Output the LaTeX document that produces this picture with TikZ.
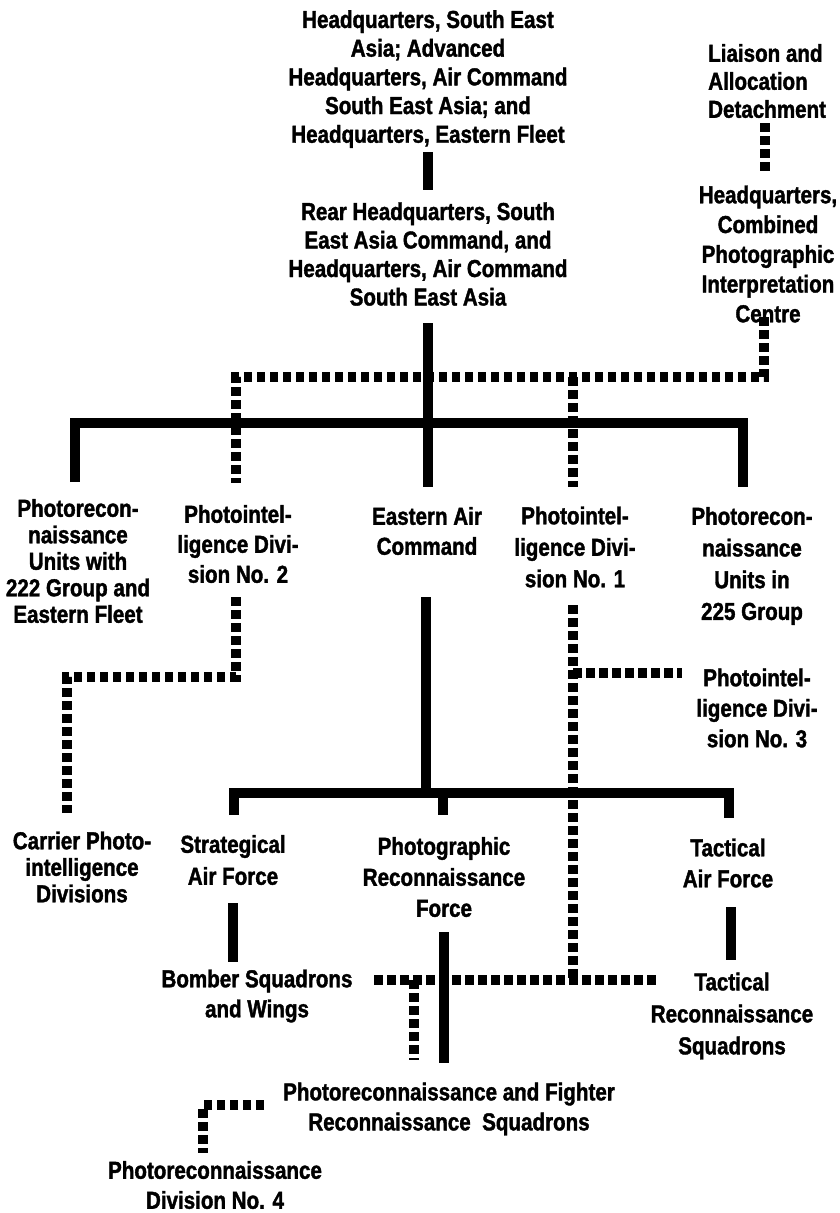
\documentclass[tikz,border=0pt]{standalone}
\usepackage{fontspec}
\setmainfont{Liberation Sans}[FakeStretch=0.84,FakeBold=1.5]
\newcommand\lblfont[1]{\fontsize{24.5}{#1}\selectfont\bfseries}
\tikzset{
  lbl/.style={font=\lblfont{#1}, align=center, inner sep=0pt, text=black},
  solidline/.style={line width=9.5pt, line cap=butt, line join=miter, draw=black},
  dotline/.style={line width=9.5pt, line cap=butt, dash pattern=on 8.5pt off 4.5pt, draw=black}
}
\begin{document}
\begin{tikzpicture}[x=1pt,y=-1pt]
\useasboundingbox (0,0) rectangle (840,1213);
\fill[white] (0,0) rectangle (840,1213);

% ---------- nodes ----------
\node[lbl=28.7] (top) at (428,79) {Headquarters, South East\\Asia; Advanced\\Headquarters, Air Command\\South East Asia; and\\Headquarters, Eastern Fleet};
\node[lbl=28.5] (rear) at (428,254) {Rear Headquarters, South\\East Asia Command, and\\Headquarters, Air Command\\South East Asia};
\node[lbl=28, align=left, anchor=west] (liaison) at (708,81) {Liaison and\\Allocation\\Detachment};
\node[lbl=29.75] (hqcpic) at (768,254) {Headquarters,\\Combined\\Photographic\\Interpretation\\Centre};
\node[lbl=26.5] (pru222) at (78,561) {Photorecon-\\naissance\\Units with\\222 Group and\\Eastern Fleet};
\node[lbl=30] (pid2) at (238,544) {Photointel-\\ligence Divi-\\sion No. 2};
\node[lbl=30] (eac) at (427,531) {Eastern Air\\Command};
\node[lbl=31.5] (pid1) at (575,547) {Photointel-\\ligence Divi-\\sion No. 1};
\node[lbl=31.7] (pru225) at (752,566) {Photorecon-\\naissance\\Units in\\225 Group};
\node[lbl=30.5] (pid3) at (757,708) {Photointel-\\ligence Divi-\\sion No. 3};
\node[lbl=26.5] (carrier) at (82,867) {Carrier Photo-\\intelligence\\Divisions};
\node[lbl=32] (saf) at (233,860) {Strategical\\Air Force};
\node[lbl=31] (prf) at (444,877) {Photographic\\Reconnaissance\\Force};
\node[lbl=31] (taf) at (728,863) {Tactical\\Air Force};
\node[lbl=30] (bomber) at (257,996) {Bomber Squadrons\\and Wings};
\node[lbl=32] (trs) at (732,1016) {Tactical\\Reconnaissance\\Squadrons};
\node[lbl=30] (prfrs) at (449,1109) {Photoreconnaissance and Fighter\\Reconnaissance\ \ Squadrons};
\node[lbl=30] (prd4) at (215,1185) {Photoreconnaissance\\Division No. 4};

% ---------- coordinates ----------
\coordinate (topA) at (428,152);
\coordinate (rearA) at (428,190);
\coordinate (rearB) at (428,323);
\coordinate (eacA) at (428,487);
\coordinate (barL) at (75,423);
\coordinate (barR) at (743,423);
\coordinate (pru222A) at (75,482);
\coordinate (pru225A) at (743,487);
\coordinate (eacB) at (426,597);
\coordinate (bar2C) at (426,793);
\coordinate (bar2L) at (234,793);
\coordinate (bar2R) at (729,793);
\coordinate (safA) at (234,815);
\coordinate (prfA) at (443,793);
\coordinate (prfB) at (443,815);
\coordinate (tafA) at (729,818);
\coordinate (safB) at (233,903);
\coordinate (bomberA) at (233,962);
\coordinate (prfC) at (444,932);
\coordinate (prfrsA) at (444,1063);
\coordinate (tafB) at (731,907);
\coordinate (trsA) at (731,960);
% dotted
\coordinate (liaisonA) at (765,123);
\coordinate (hqA) at (765,175);
\coordinate (hqB) at (764,317);
\coordinate (dotR) at (764,377);
\coordinate (dotL) at (236,377);
\coordinate (pid2A) at (236,483);
\coordinate (dotM) at (573,377);
\coordinate (pid1A) at (573,487);
\coordinate (pid2B) at (236,597);
\coordinate (carrJ) at (236,677);
\coordinate (carrK) at (67,677);
\coordinate (carrierA) at (67,813);
\coordinate (pid1B) at (573,605);
\coordinate (pid1C) at (573,980);
\coordinate (pid3J) at (573,673);
\coordinate (pid3A) at (682,673);
\coordinate (hzL) at (374,980);
\coordinate (hzR) at (657,980);
\coordinate (hzD) at (414,980);
\coordinate (hzE) at (414,1060);
\coordinate (lR) at (264,1105);
\coordinate (lC) at (203,1105);
\coordinate (prd4A) at (203,1153);

% ---------- solid connectors ----------
\draw[solidline] (topA) -- (rearA);
\draw[solidline] (rearB) -- (eacA);
\draw[solidline] (pru222A) -- (barL) -- (barR) -- (pru225A);
\draw[solidline] (eacB) -- (bar2C);
\draw[solidline] (safA) -- (bar2L) -- (bar2R) -- (tafA);
\draw[solidline] (prfA) -- (prfB);
\draw[solidline] (safB) -- (bomberA);
\draw[solidline] (prfC) -- (prfrsA);
\draw[solidline] (tafB) -- (trsA);

% ---------- dotted connectors ----------
\draw[dotline] (liaisonA) -- (hqA);
\draw[dotline] (hqB) -- (dotR) -- (dotL) -- (pid2A);
\draw[dotline] (dotM) -- (pid1A);
\draw[dotline] (pid2B) -- (carrJ) -- (carrK) -- (carrierA);
\draw[dotline] (pid1B) -- (pid1C);
\draw[dotline] (pid3J) -- (pid3A);
\draw[dotline] (hzL) -- (hzR);
\draw[dotline] (hzD) -- (hzE);
\draw[dotline] (lR) -- (lC) -- (prd4A);
\end{tikzpicture}
\end{document}
